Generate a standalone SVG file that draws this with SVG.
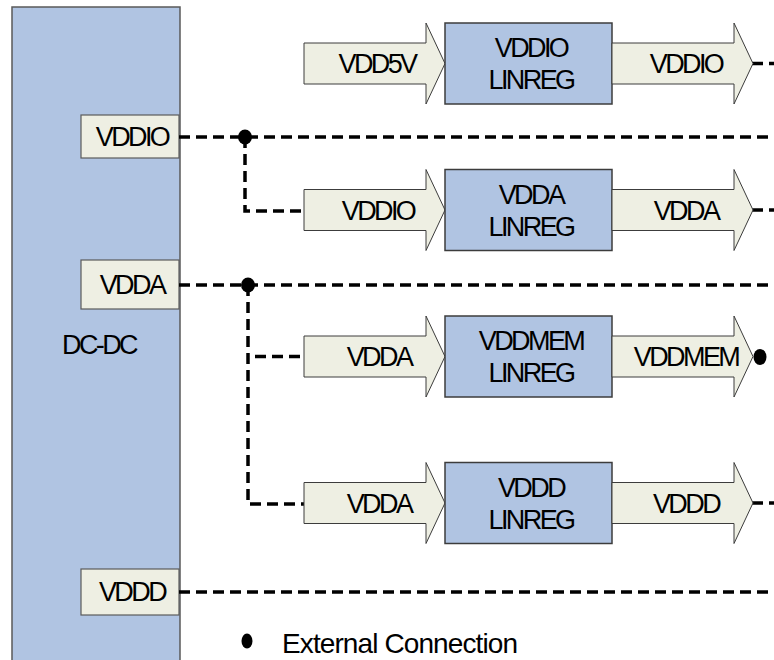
<svg xmlns="http://www.w3.org/2000/svg" xmlns:xlink="http://www.w3.org/1999/xlink" width="774" height="660" viewBox="0 0 774 660">
  <style>
    .dcdc { fill: #b0c4e2; stroke: #5a5a5a; stroke-width: 1.5; }
    .pin { fill: #eeefe3; stroke: #5a5a5a; stroke-width: 1.2; }
    .reg { fill: #b0c4e2; stroke: #3c3c3c; stroke-width: 1.5; }
    .arrow { fill: #eeefe3; stroke: #3c3c3c; stroke-width: 1; }
    .wire { fill: none; stroke: #000; stroke-width: 3.5; stroke-dasharray: 11 6; }
    .dot { fill: #000; }
    text { font-family: "Liberation Sans", Arial, sans-serif; font-size: 27px; fill: #000; letter-spacing: -2.6px; }
    .mid { text-anchor: middle; }
    .legend { font-size: 28px; letter-spacing: -0.9px; }
  </style>
  <defs>
    <!-- block arrow, origin at left edge / vertical centre -->
    <polygon id="blk" class="arrow" points="0,-20.5 122,-20.5 122,-40.5 141,0 122,40.5 122,20.5 0,20.5"/>
  </defs>

  <!-- DC-DC converter with its output pins -->
  <g id="dcdc">
    <rect class="dcdc" x="12" y="7" width="168" height="670"/>
    <text class="mid" x="99" y="354">DC-DC</text>
  </g>
  <g id="pin-vddio">
    <rect class="pin" x="81" y="115" width="98" height="43"/>
    <text class="mid" x="132" y="146">VDDIO</text>
  </g>
  <g id="pin-vdda">
    <rect class="pin" x="81" y="260" width="98" height="49"/>
    <text class="mid" x="132" y="294">VDDA</text>
  </g>
  <g id="pin-vddd">
    <rect class="pin" x="81" y="569" width="98" height="46"/>
    <text class="mid" x="132" y="601">VDDD</text>
  </g>

  <!-- dashed supply wiring -->
  <g id="connectors">
    <path class="wire" d="M179,137 H774"/>
    <path class="wire" d="M245,137 V211 H304"/>
    <path class="wire" d="M179,285 H774"/>
    <path class="wire" d="M248,285 V504 H304"/>
    <path class="wire" d="M255,356.5 H304"/>
    <path class="wire" d="M179,592 H774"/>
    <path class="wire" d="M752,63.5 H774"/>
    <path class="wire" d="M752,210 H774"/>
    <path class="wire" d="M752,503 H774"/>
    <ellipse class="dot" cx="245" cy="137" rx="7" ry="7.5"/>
    <ellipse class="dot" cx="248" cy="285" rx="7" ry="7.5"/>
    <ellipse class="dot" cx="760" cy="357" rx="6.5" ry="8"/>
  </g>

  <!-- VDDIO regulator -->
  <g id="vddio-linreg">
    <use xlink:href="#blk" x="304" y="63.5"/>
    <text class="mid" x="377" y="73">VDD5V</text>
    <rect class="reg" x="445" y="23" width="167" height="81"/>
    <text class="mid" x="531" y="57">VDDIO</text>
    <text class="mid" x="531" y="89">LINREG</text>
    <use xlink:href="#blk" x="612" y="63.5"/>
    <text class="mid" x="686" y="73">VDDIO</text>
  </g>

  <!-- VDDA regulator -->
  <g id="vdda-linreg">
    <use xlink:href="#blk" x="304" y="210"/>
    <text class="mid" x="378" y="219.5">VDDIO</text>
    <rect class="reg" x="445" y="169.5" width="167" height="81"/>
    <text class="mid" x="531" y="203.5">VDDA</text>
    <text class="mid" x="531" y="235.5">LINREG</text>
    <use xlink:href="#blk" x="612" y="210"/>
    <text class="mid" x="686" y="219.5">VDDA</text>
  </g>

  <!-- VDDMEM regulator -->
  <g id="vddmem-linreg">
    <use xlink:href="#blk" x="304" y="356.5"/>
    <text class="mid" x="379" y="366">VDDA</text>
    <rect class="reg" x="445" y="316" width="167" height="81"/>
    <text class="mid" x="531" y="350">VDDMEM</text>
    <text class="mid" x="531" y="382">LINREG</text>
    <use xlink:href="#blk" x="612" y="356.5"/>
    <text class="mid" x="686" y="366">VDDMEM</text>
  </g>

  <!-- VDDD regulator -->
  <g id="vddd-linreg">
    <use xlink:href="#blk" x="304" y="503"/>
    <text class="mid" x="379" y="512.5">VDDA</text>
    <rect class="reg" x="445" y="462.5" width="167" height="81"/>
    <text class="mid" x="531" y="496.5">VDDD</text>
    <text class="mid" x="531" y="528.5">LINREG</text>
    <use xlink:href="#blk" x="612" y="503"/>
    <text class="mid" x="686" y="512.5">VDDD</text>
  </g>

  <!-- key -->
  <g id="legend">
    <ellipse class="dot" cx="247" cy="641" rx="5.5" ry="7.5"/>
    <text class="legend" x="282" y="653">External Connection</text>
  </g>
</svg>
